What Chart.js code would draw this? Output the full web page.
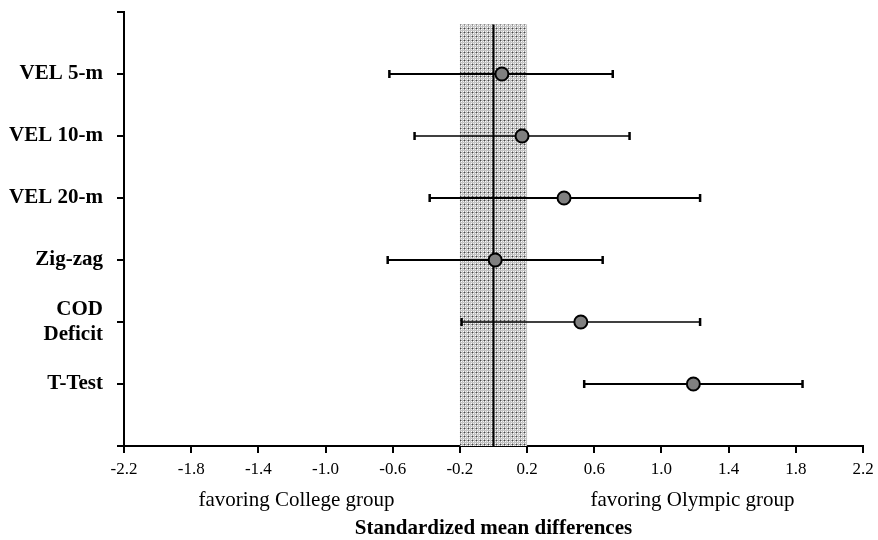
<!DOCTYPE html>
<html>
<head>
<meta charset="utf-8">
<script src="https://cdn.jsdelivr.net/npm/chart.js@4.4.0/dist/chart.umd.min.js"></script>
<style>
  html, body { margin: 0; padding: 0; background: #fff; }
</style>
</head>
<body>
<canvas id="myChart" width="878" height="540"></canvas>
<script>
// forest plot data
const outcomes = ['VEL 5-m', 'VEL 10-m', 'VEL 20-m', 'Zig-zag', ['COD', 'Deficit'], 'T-Test'];
const means = [0.05, 0.17, 0.42, 0.01, 0.52, 1.19];
const lower = [-0.62, -0.47, -0.38, -0.63, -0.19, 0.54];
const upper = [0.71, 0.81, 1.23, 0.65, 1.23, 1.84];
const xTicks = [-2.2, -1.8, -1.4, -1.0, -0.6, -0.2, 0.2, 0.6, 1.0, 1.4, 1.8, 2.2];
const trivialBand = [-0.2, 0.2];
const refSpan = [0.2, 7];
const sideLabels = ['favoring College group', 'favoring Olympic group'];
const axisTitle = 'Standardized mean differences';

const barWidths = [2.2, 1.6, 2.2, 2.2, 1.6, 2.2];
const serif = '"Liberation Serif", "Times New Roman", serif';

function stipple() {
  const c = document.createElement('canvas');
  c.width = 4; c.height = 4;
  const g = c.getContext('2d');
  g.fillStyle = '#eeeeee'; g.fillRect(0, 0, 4, 4);
  g.fillStyle = '#a4a4a4'; g.fillRect(0, 0, 1, 4); g.fillRect(0, 0, 4, 1);
  g.fillStyle = '#c4c4c4'; g.fillRect(2, 0, 1, 4); g.fillRect(0, 2, 4, 1);
  g.fillStyle = '#444'; g.fillRect(0, 0, 1, 1);
  g.fillStyle = '#ffffff'; g.fillRect(1, 1, 1, 1); g.fillRect(3, 3, 1, 1);
  return g.createPattern(c, 'repeat');
}

const bandPlugin = {
  id: 'band',
  beforeDatasetsDraw(chart) {
    const { ctx, scales: { x, y } } = chart;
    const x1 = x.getPixelForValue(trivialBand[0]);
    const x2 = x.getPixelForValue(trivialBand[1]);
    const y1 = y.getPixelForValue(refSpan[0]);
    const y2 = y.getPixelForValue(refSpan[1]);
    ctx.save();
    ctx.fillStyle = stipple();
    ctx.fillRect(x1, y1, x2 - x1, y2 - y1);
    ctx.restore();
  }
};

const textPlugin = {
  id: 'bottomText',
  afterDraw(chart) {
    const { ctx, chartArea } = chart;
    const mid = (chartArea.left + chartArea.right) / 2;
    ctx.save();
    ctx.fillStyle = '#000';
    ctx.textAlign = 'center';
    ctx.textBaseline = 'alphabetic';
    ctx.font = '21px ' + serif;
    ctx.fillText(sideLabels[0], mid - 197, 506);
    ctx.fillText(sideLabels[1], mid + 199, 506);
    ctx.font = 'bold 21px ' + serif;
    ctx.fillText(axisTitle, mid, 534);
    ctx.restore();
  }
};

const datasets = [];
datasets.push({
  type: 'scatter',
  data: means.map((m, i) => ({ x: m, y: i + 1 })),
  pointRadius: 6.5,
  pointBackgroundColor: '#808080',
  pointBorderColor: '#000',
  pointBorderWidth: 2
});
outcomes.forEach((o, i) => {
  datasets.push({
    type: 'line',
    data: [{ x: lower[i], y: i + 1 }, { x: upper[i], y: i + 1 }],
    borderColor: '#000',
    borderWidth: barWidths[i],
    pointStyle: 'line',
    rotation: 90,
    pointRadius: 4,
    pointBorderWidth: 2.5,
    pointBorderColor: '#000'
  });
});
datasets.push({
  type: 'line',
  data: [{ x: 0, y: refSpan[0] }, { x: 0, y: refSpan[1] }],
  borderColor: '#000',
  borderWidth: 2,
  pointRadius: 0
});

new Chart(document.getElementById('myChart'), {
  type: 'scatter',
  data: { datasets },
  options: {
    responsive: false,
    animation: false,
    layout: { padding: { top: 12, right: 15, left: 0, bottom: 0 } },
    plugins: { legend: { display: false }, tooltip: { enabled: false } },
    scales: {
      x: {
        type: 'linear',
        min: -2.2,
        max: 2.2,
        afterBuildTicks: s => { s.ticks = xTicks.map(v => ({ value: v })); },
        afterFit: s => { s.height = 94; s.paddingLeft = 0; s.paddingRight = 0; },
        ticks: {
          color: '#000',
          padding: 6,
          maxRotation: 0,
          font: { family: serif, size: 17 },
          callback: v => v.toFixed(1)
        },
        grid: { drawOnChartArea: false, drawTicks: true, tickLength: 7, color: '#000', lineWidth: 2 },
        border: { display: true, color: '#000', width: 2 }
      },
      y: {
        type: 'linear',
        min: 0,
        max: 7,
        reverse: true,
        afterBuildTicks: s => { s.ticks = [0, 1, 2, 3, 4, 5, 6, 7].map(v => ({ value: v })); },
        afterFit: s => { s.width = 124; s.paddingTop = 0; s.paddingBottom = 0; },
        ticks: {
          color: '#000',
          padding: 14,
          font: { family: serif, size: 21, weight: 'bold' },
          callback: v => (v >= 1 && v <= outcomes.length) ? outcomes[v - 1] : ''
        },
        grid: { drawOnChartArea: false, drawTicks: true, tickLength: 7, color: '#000', lineWidth: 2 },
        border: { display: true, color: '#000', width: 2 }
      }
    }
  },
  plugins: [bandPlugin, textPlugin]
});
</script>
</body>
</html>
